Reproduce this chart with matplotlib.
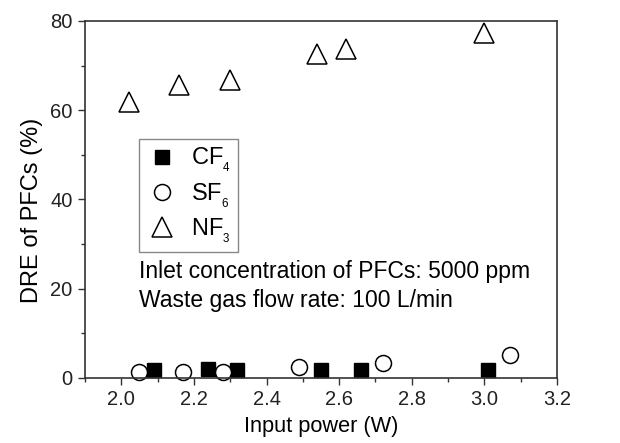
import numpy as np
import matplotlib.pyplot as plt
from matplotlib.ticker import MultipleLocator

plt.rcParams['font.family'] = ['Liberation Sans', 'DejaVu Sans']
plt.rcParams['mathtext.fontset'] = 'custom'
plt.rcParams['mathtext.rm'] = 'Liberation Sans'

# input power (W) and DRE (%)
cf4_x = [2.09, 2.24, 2.32, 2.55, 2.66, 3.01]
cf4_y = [1.8, 1.9, 1.8, 1.8, 1.8, 1.8]
sf6_x = [2.05, 2.17, 2.28, 2.49, 2.72, 3.07]
sf6_y = [1.3, 1.3, 1.3, 2.3, 3.4, 5.1]
nf3_x = [2.02, 2.16, 2.30, 2.54, 2.62, 3.00]
nf3_y = [61.8, 65.7, 66.7, 72.6, 73.8, 77.4]

fig = plt.figure(figsize=(6.2, 4.43), dpi=100)
ax = fig.add_axes([85/620, 1 - 377.7/443, (557 - 85)/620, (377.7 - 21)/443])

ax.plot(cf4_x, cf4_y, 's', color='k', ms=10.5, label=r'CF$_{_4}$', clip_on=False)
ax.plot(sf6_x, sf6_y, 'o', mfc='white', mec='k', mew=1.1, ms=11.5, label=r'SF$_{_6}$', clip_on=False)
ax.plot(nf3_x, nf3_y, '^', mfc='white', mec='k', mew=1.1, ms=14, label=r'NF$_{_3}$', clip_on=False)

ax.set_xlim(1.9, 3.2)
ax.set_ylim(0, 80)
ax.xaxis.set_major_locator(MultipleLocator(0.2))
ax.xaxis.set_minor_locator(MultipleLocator(0.1))
ax.yaxis.set_major_locator(MultipleLocator(20))
ax.yaxis.set_minor_locator(MultipleLocator(10))
ax.xaxis.set_major_formatter(plt.FormatStrFormatter('%.1f'))
ax.tick_params(which='major', length=5, width=1, labelsize=14.5, pad=4,
               colors='#333333', labelcolor='#222222')
ax.tick_params(which='minor', length=3, width=1, colors='#333333')
for s in ax.spines.values():
    s.set_color('#333333')
    s.set_linewidth(1.2)

ax.set_xlabel('Input power (W)', fontsize=15.7, labelpad=5)
ax.set_ylabel('DRE of PFCs (%)', fontsize=17)
ax.yaxis.set_label_coords(-0.09, 0.47)

leg = ax.legend(loc='upper left', bbox_to_anchor=(0.114, 0.669), borderaxespad=0,
                fontsize=17, fancybox=False, framealpha=1, edgecolor='#888888',
                handletextpad=0.5, borderpad=0.3, labelspacing=0.3, handlelength=1.4)
leg.get_frame().set_linewidth(1.0)

ax.text((139 - 85)/472, (377.7 - 286)/356.7,
        'Inlet concentration of PFCs: 5000 ppm\nWaste gas flow rate: 100 L/min',
        transform=ax.transAxes, fontsize=16.5, linespacing=1.38, va='center')

fig.savefig('out.png', dpi=100)
